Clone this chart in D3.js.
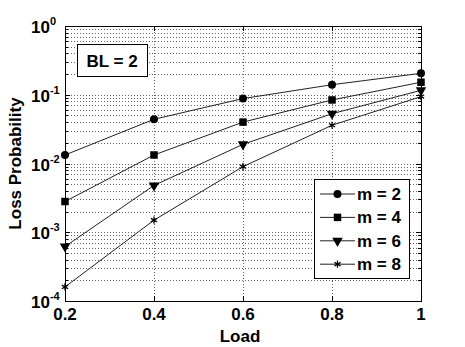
<!DOCTYPE html>
<html>
<head>
<meta charset="utf-8">
<script src="https://cdn.jsdelivr.net/npm/d3@7"></script>
<style>
  body { margin: 0; background: #fff; }
  text { font-family: "Liberation Sans", Arial, sans-serif; font-weight: bold; fill: #000; }
</style>
</head>
<body>
<div id="chart"></div>
<script>
// Dữ liệu
const loads = [0.2, 0.4, 0.6, 0.8, 1.0];
const m2 = [0.0133, 0.044, 0.088, 0.140, 0.205];
const m4 = [0.0028, 0.0133, 0.040, 0.084, 0.152];
const m6 = [0.00062, 0.0048, 0.019, 0.053, 0.116];
const m8 = [0.00016, 0.0015, 0.009, 0.036, 0.094];
const seriesNames = ["m = 2", "m = 4", "m = 6", "m = 8"];
const markers = ["circle", "square", "triangle", "star"];
const xTicks = [0.2, 0.4, 0.6, 0.8, 1];
const yExps = [0, -1, -2, -3, -4];

const series = [m2, m4, m6, m8].map((vals, i) => ({
    name: seriesNames[i],
    marker: markers[i],
    points: loads.map((l, j) => ({ x: l, y: vals[j] }))
}));

const width = 465, height = 347;
const margin = { top: 26, right: 44, bottom: 46, left: 65 };

const svg = d3.select("#chart").append("svg")
    .attr("width", width)
    .attr("height", height);

const x = d3.scaleLinear().domain([0.2, 1]).range([margin.left, width - margin.right]);
const y = d3.scaleLog().domain([1e-4, 1]).range([height - margin.bottom, margin.top]);

// Lưới chấm
const minor = [];
for (let e = -4; e < 0; e++) for (let k = 2; k <= 9; k++) minor.push(k * Math.pow(10, e));
const grid = svg.append("g").attr("stroke", "#666").attr("stroke-width", 1).attr("stroke-dasharray", "1,2");
grid.selectAll(".hy").data(minor.concat(yExps.slice(1, 4).map(e => Math.pow(10, e)))).enter()
    .append("line")
    .attr("x1", margin.left).attr("x2", width - margin.right)
    .attr("y1", d => Math.round(y(d)) + 0.5).attr("y2", d => Math.round(y(d)) + 0.5);
grid.selectAll(".vx").data(xTicks.slice(1, 4)).enter()
    .append("line")
    .attr("y1", margin.top).attr("y2", height - margin.bottom)
    .attr("x1", d => Math.round(x(d)) + 0.5).attr("x2", d => Math.round(x(d)) + 0.5);

// Khung và vạch chia
svg.append("rect")
    .attr("x", margin.left + 0.5).attr("y", margin.top + 0.5)
    .attr("width", width - margin.left - margin.right)
    .attr("height", height - margin.top - margin.bottom)
    .attr("fill", "none").attr("stroke", "#000").attr("stroke-width", 1);

const ticks = svg.append("g").attr("stroke", "#000");
minor.concat(yExps.map(e => Math.pow(10, e))).forEach(v => {
    const yy = Math.round(y(v)) + 0.5;
    const len = minor.includes(v) ? 3 : 5;
    ticks.append("line").attr("x1", margin.left).attr("x2", margin.left + len).attr("y1", yy).attr("y2", yy);
    ticks.append("line").attr("x1", width - margin.right - len).attr("x2", width - margin.right).attr("y1", yy).attr("y2", yy);
});
xTicks.forEach(v => {
    const xx = Math.round(x(v)) + 0.5;
    ticks.append("line").attr("x1", xx).attr("x2", xx).attr("y1", height - margin.bottom).attr("y2", height - margin.bottom - 5);
    ticks.append("line").attr("x1", xx).attr("x2", xx).attr("y1", margin.top).attr("y2", margin.top + 5);
});

// Nhãn trục X
svg.selectAll(".xl").data(xTicks).enter()
    .append("text")
    .attr("x", d => x(d))
    .attr("y", height - margin.bottom + 19)
    .attr("text-anchor", "middle")
    .style("font-size", "17px")
    .text(d => d === 1 ? "1" : d.toFixed(1));

// Nhãn trục Y (10 mũ)
yExps.forEach(e => {
    const t = svg.append("text")
        .attr("x", 31)
        .attr("y", y(Math.pow(10, e)) + 7)
        .style("font-size", "17px");
    t.append("tspan").text("10");
    t.append("tspan").attr("dy", -8).style("font-size", "11px").text(e);
});

// Tiêu đề trục
svg.append("text")
    .attr("x", 240).attr("y", 342)
    .attr("text-anchor", "middle")
    .style("font-size", "17px")
    .text("Load");
svg.append("text")
    .attr("transform", `translate(21,${(margin.top + height - margin.bottom) / 2}) rotate(-90)`)
    .attr("text-anchor", "middle")
    .style("font-size", "17px")
    .text("Loss Probability");

// Đường
const line = d3.line().x(d => x(d.x)).y(d => y(d.y));
const symbolType = {
    circle: d3.symbolCircle,
    square: d3.symbolSquare,
    triangle: d3.symbolTriangle,
    star: d3.symbolAsterisk
};
const symbolSize = { circle: 50, square: 56, triangle: 48, star: 36 };

function drawMarker(g, type, cx, cy) {
    const isStar = type === "star";
    const rot = type === "triangle" ? " rotate(180)" : "";
    g.append("path")
        .attr("transform", `translate(${cx},${cy})${rot}`)
        .attr("d", d3.symbol().type(symbolType[type]).size(symbolSize[type])())
        .attr("fill", isStar ? "none" : "#000")
        .attr("stroke", "#000")
        .attr("stroke-width", isStar ? 1.3 : 0);
}

series.forEach(s => {
    svg.append("path")
        .datum(s.points)
        .attr("d", line)
        .attr("fill", "none")
        .attr("stroke", "#222")
        .attr("stroke-width", 1);
    const g = svg.append("g");
    s.points.forEach(p => drawMarker(g, s.marker, x(p.x), y(p.y)));
});

// Hộp BL = 2
svg.append("rect")
    .attr("x", 77.5).attr("y", 44.5).attr("width", 70).attr("height", 32)
    .attr("fill", "#fff").attr("stroke", "#000");
svg.append("text")
    .attr("x", 112).attr("y", 66.5)
    .attr("text-anchor", "middle")
    .style("font-size", "17px")
    .text("BL = 2");

// Chú thích
const legend = svg.append("g");
legend.append("rect")
    .attr("x", 314.5).attr("y", 179.5).attr("width", 95).attr("height", 99)
    .attr("fill", "#fff").attr("stroke", "#000");
series.forEach((s, i) => {
    const ly = 194 + i * 23.4;
    legend.append("line")
        .attr("x1", 320).attr("x2", 355).attr("y1", ly).attr("y2", ly)
        .attr("stroke", "#222");
    drawMarker(legend, s.marker, 337.5, ly);
    legend.append("text")
        .attr("x", 357).attr("y", ly + 6)
        .style("font-size", "17px")
        .text(s.name);
});
</script>
</body>
</html>
